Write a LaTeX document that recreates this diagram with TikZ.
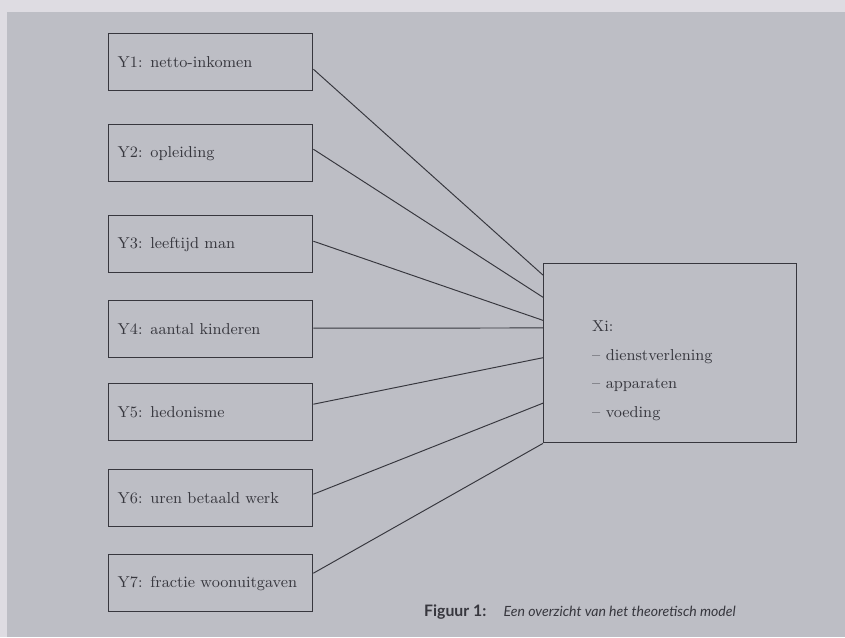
\documentclass[tikz,border=0pt]{standalone}
\usepackage{fontspec}
\newfontfamily\capfont{Lato}
\usepackage{tikz}
\usetikzlibrary{positioning, calc}
\definecolor{pagebg}{RGB}{222, 220, 226}
\definecolor{scangray}{RGB}{189, 190, 197}
\definecolor{ink}{RGB}{55, 55, 62}
\tikzstyle{ybox} = [
    draw=ink,
    line width=0.8pt,
    anchor=north west,
    minimum height=1.14cm,
    text width=3.72cm,
    inner xsep=0.18cm,
    align=left,
    text=ink,
    font=\small
]
\tikzstyle{link} = [
    draw=ink,
    line width=0.55pt
]

\begin{document}
\begin{tikzpicture}[x=0.02cm, y=-0.02cm]
        % Page and scanned area
        \fill[pagebg] (0, 0) rectangle (845, 637);
        \fill[scangray] (7, 12) rectangle (845, 637);
        \useasboundingbox (0, 0) rectangle (845, 637);

        % Explaining variables
        \node[ybox] (y1) at (108, 33) {Y1: netto-inkomen};
        \node[ybox] (y2) at (108, 124) {Y2: opleiding};
        \node[ybox] (y3) at (108, 215) {Y3: leeftijd man};
        \node[ybox] (y4) at (108, 300) {Y4: aantal kinderen};
        \node[ybox] (y5) at (108, 383) {Y5: hedonisme};
        \node[ybox] (y6) at (108, 469) {Y6: uren betaald werk};
        \node[ybox] (y7) at (108, 554) {Y7: fractie woonuitgaven};

        % Dependent variable
        \node[draw=ink, line width=0.8pt, anchor=north west,
              minimum width=5.06cm, minimum height=3.58cm] (xi) at (543, 263) {};
        \node[anchor=north west, align=left, text=ink, font=\small] (xitext) at (586, 314)
            {Xi:\\[5.5pt] -- dienstverlening\\[5.5pt] -- apparaten\\[5.5pt] -- voeding};

        % Connections
        \draw[link] ($(y1.east)+(0, 7)$) -- ($(xi.north west)!0.067!(xi.south west)$);
        \draw[link] ($(y2.east)+(0, -4)$) -- ($(xi.north west)!0.19!(xi.south west)$);
        \draw[link] ($(y3.east)+(0, -3)$) -- ($(xi.north west)!0.318!(xi.south west)$);
        \draw[link] ($(y4.east)+(0, -1)$) -- ($(xi.north west)!0.36!(xi.south west)$);
        \draw[link] ($(y5.east)+(0, -8)$) -- ($(xi.north west)!0.525!(xi.south west)$);
        \draw[link] ($(y6.east)+(0, -4)$) -- ($(xi.north west)!0.777!(xi.south west)$);
        \draw[link] ($(y7.east)+(0, -10)$) -- (xi.south west);

        % Caption
        \node[anchor=west, text=ink, font=\capfont\small] (caption) at (418, 612)
            {\textbf{Figuur 1:}\hspace{1.1em}{\footnotesize\itshape Een overzicht van het theoretisch model}};
    \end{tikzpicture}
\end{document}
